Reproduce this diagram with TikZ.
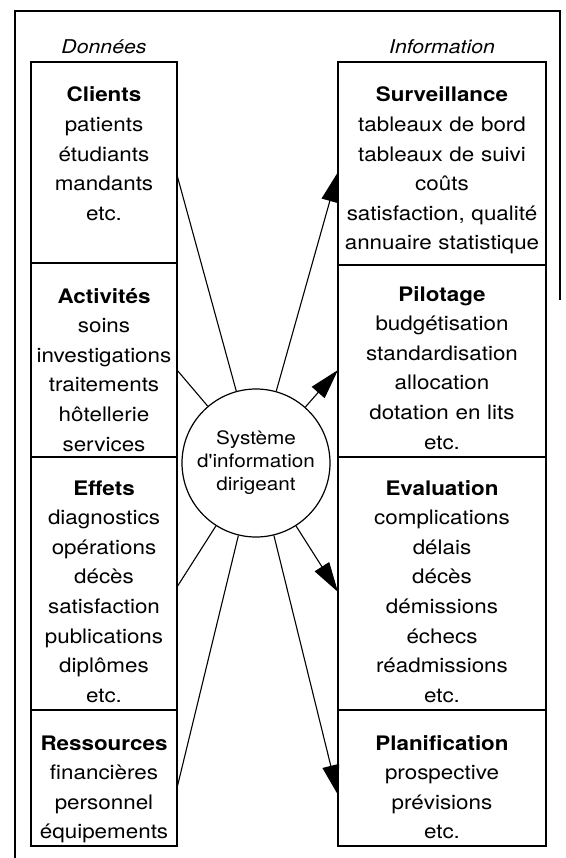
\documentclass[tikz,border=0pt]{standalone}
\usepackage{fontspec}
\setmainfont{TeX Gyre Heros}[FakeStretch=1.12]
\usetikzlibrary{positioning,arrows.meta}

\begin{document}
\begin{tikzpicture}[x=1pt,y=1pt,
  sect/.style={draw,line width=1.2pt,rectangle,anchor=north,inner sep=0pt,outer sep=0pt},
  lsect/.style={sect,minimum width=146pt},
  rsect/.style={sect,minimum width=208pt},
  sectxt/.style={anchor=base,align=center,inner sep=0pt,text width=#1,
    font=\fontsize{20}{29.6}\selectfont},
  head/.style={anchor=base,inner sep=0pt,font=\fontsize{19}{22}\selectfont\itshape},
  link/.style={line width=1.1pt},
  flow/.style={line width=1.1pt,-{Triangle[length=30pt,width=17pt]}}]
  \useasboundingbox (0,0) rectangle (565,-858);
  % cadre
  \draw[line width=2pt] (15,-858) -- (15,-11) -- (560,-11) -- (560,-300);

  % donnees
  \node[lsect,minimum height=201pt] (cli) at (104,-62) {};
  \node[lsect,minimum height=194pt,below=0pt of cli] (act) {};
  \node[lsect,minimum height=253pt,below=0pt of act] (eff) {};
  \node[lsect,minimum height=136pt,below=0pt of eff] (res) {};
  \node[head] (don) at ([yshift=8pt]cli.north) {Données};

  \node[sectxt=146pt] (clit) at ([yshift=-40pt]cli.north)
    {\textbf{Clients}\\patients\\étudiants\\mandants\\etc.};
  \node[sectxt=146pt] (actt) at ([yshift=-40pt]act.north)
    {\textbf{Activités}\\soins\\investigations\\traitements\\hôtellerie\\services};
  \node[sectxt=146pt] (efft) at ([yshift=-38pt]eff.north)
    {\textbf{Effets}\\diagnostics\\opérations\\décès\\satisfaction\\publications\\diplômes\\etc.};
  \node[sectxt=146pt] (rest) at ([yshift=-40pt]res.north)
    {\textbf{Ressources}\\financières\\personnel\\équipements};

  % information
  \node[rsect,minimum height=203pt] (sur) at (442,-62) {};
  \node[rsect,minimum height=192pt,below=0pt of sur] (pil) {};
  \node[rsect,minimum height=253pt,below=0pt of pil] (eva) {};
  \node[rsect,minimum height=136pt,below=0pt of eva] (pla) {};
  \node[head] (inf) at ([yshift=8pt]sur.north) {Information};

  \node[sectxt=208pt] (surt) at ([yshift=-40pt]sur.north)
    {\textbf{Surveillance}\\tableaux de bord\\tableaux de suivi\\coûts\\satisfaction, qualité\\annuaire statistique};
  \node[sectxt=208pt] (pilt) at ([yshift=-36pt]pil.north)
    {\textbf{Pilotage}\\budgétisation\\standardisation\\allocation\\dotation en lits\\etc.};
  \node[sectxt=208pt] (evat) at ([yshift=-38pt]eva.north)
    {\textbf{Evaluation}\\complications\\délais\\décès\\démissions\\échecs\\réadmissions\\etc.};
  \node[sectxt=208pt] (plat) at ([yshift=-40pt]pla.north)
    {\textbf{Planification}\\prospective\\prévisions\\etc.};

  \node[circle,draw,line width=1.2pt,minimum size=148pt,inner sep=0pt,align=center,
    font=\fontsize{18.5}{23}\selectfont\addfontfeatures{Ligatures=TeXOff}] (sid) at (256,-463)
    {Système\\d'information\\dirigeant};

  \coordinate (cliin) at ([yshift=-113pt]cli.north east);
  \coordinate (actin) at ([yshift=-107pt]act.north east);
  \coordinate (effin) at ([yshift=-130pt]eff.north east);
  \coordinate (resin) at ([yshift=-78pt]res.north east);
  \coordinate (surout) at ([yshift=-110pt]sur.north west);
  \coordinate (pilout) at ([yshift=-105pt]pil.north west);
  \coordinate (evaout) at ([yshift=-135pt]eva.north west);
  \coordinate (plaout) at ([yshift=-85pt]pla.north west);

  \draw[link] (cliin) -- (sid);
  \draw[link] (actin) -- (sid);
  \draw[link] (effin) -- (sid);
  \draw[link] (resin) -- (sid);
  \draw[flow] (sid) -- (surout);
  \draw[flow] (sid) -- (pilout);
  \draw[flow] (sid) -- (evaout);
  \draw[flow] (sid) -- (plaout);
\end{tikzpicture}
\end{document}
